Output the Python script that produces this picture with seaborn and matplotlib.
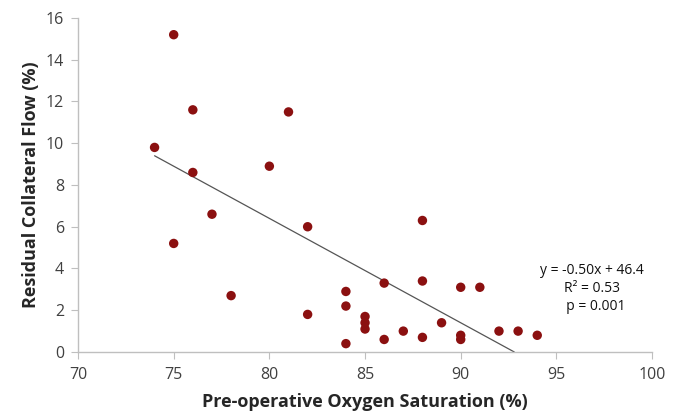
import numpy as np
import pandas as pd
import matplotlib
matplotlib.use("Agg")
import matplotlib.pyplot as plt
import seaborn as sns

# data
saturation = [74, 75, 75, 76, 76, 77, 78, 80, 81, 82, 82, 84, 84, 84, 85, 85, 85,
              86, 86, 87, 88, 88, 88, 89, 90, 90, 90, 91, 92, 93, 94]
collateral = [9.8, 15.2, 5.2, 11.6, 8.6, 6.6, 2.7, 8.9, 11.5, 6.0, 1.8, 2.9, 2.2, 0.4,
              1.7, 1.4, 1.1, 3.3, 0.6, 1.0, 6.3, 3.4, 0.7, 1.4, 3.1, 0.8, 0.6, 3.1,
              1.0, 1.0, 0.8]
slope = -0.50
intercept = 46.4
r_squared = 0.53
p_value = 0.001

df = pd.DataFrame({'sat': saturation, 'flow': collateral})

sns.set_style("white")
plt.rcParams['font.family'] = ['Open Sans', 'DejaVu Sans']

fig = plt.figure(figsize=(6.93, 4.11), dpi=100)
ax = fig.add_axes([0.1126, 0.1436, 0.8283, 0.8126])

sns.scatterplot(data=df, x='sat', y='flow', ax=ax, color='#8b1010',
                s=46, edgecolor='none', zorder=3)

# trend line from the equation, from first point down to y = 0
x_end = -intercept / slope
xl = np.array([min(saturation), x_end])
sns.lineplot(x=xl, y=slope * xl + intercept, ax=ax, color='#555555', lw=0.9, zorder=2)

ax.set_xlim(70, 100)
ax.set_ylim(0, 16)
ax.set_xticks(range(70, 101, 5))
ax.set_yticks(range(0, 17, 2))
ax.set_xlabel('Pre-operative Oxygen Saturation (%)', fontsize=13, fontweight='bold', labelpad=7)
ax.set_ylabel('Residual Collateral Flow (%)', fontsize=13, fontweight='bold', labelpad=4)
ax.tick_params(axis='both', labelsize=11.5, length=5, width=0.8,
               direction='out', bottom=True, left=True)
ax.tick_params(axis='x', colors='#bfbfbf', labelcolor='#404040', pad=6)
ax.tick_params(axis='y', colors='#bfbfbf', labelcolor='#404040', pad=5)
for s in ['top', 'right']:
    ax.spines[s].set_visible(False)
for s in ['left', 'bottom']:
    ax.spines[s].set_color('#bfbfbf')
    ax.spines[s].set_linewidth(1)

ax.text(0.896, 0.19, f"y = {slope:.2f}x + {intercept}\nR² = {r_squared}\n  p = {p_value}",
        transform=ax.transAxes, ha='center', va='center', fontsize=10,
        linespacing=1.3, color='#111111')

fig.savefig('out.png', dpi=100)
